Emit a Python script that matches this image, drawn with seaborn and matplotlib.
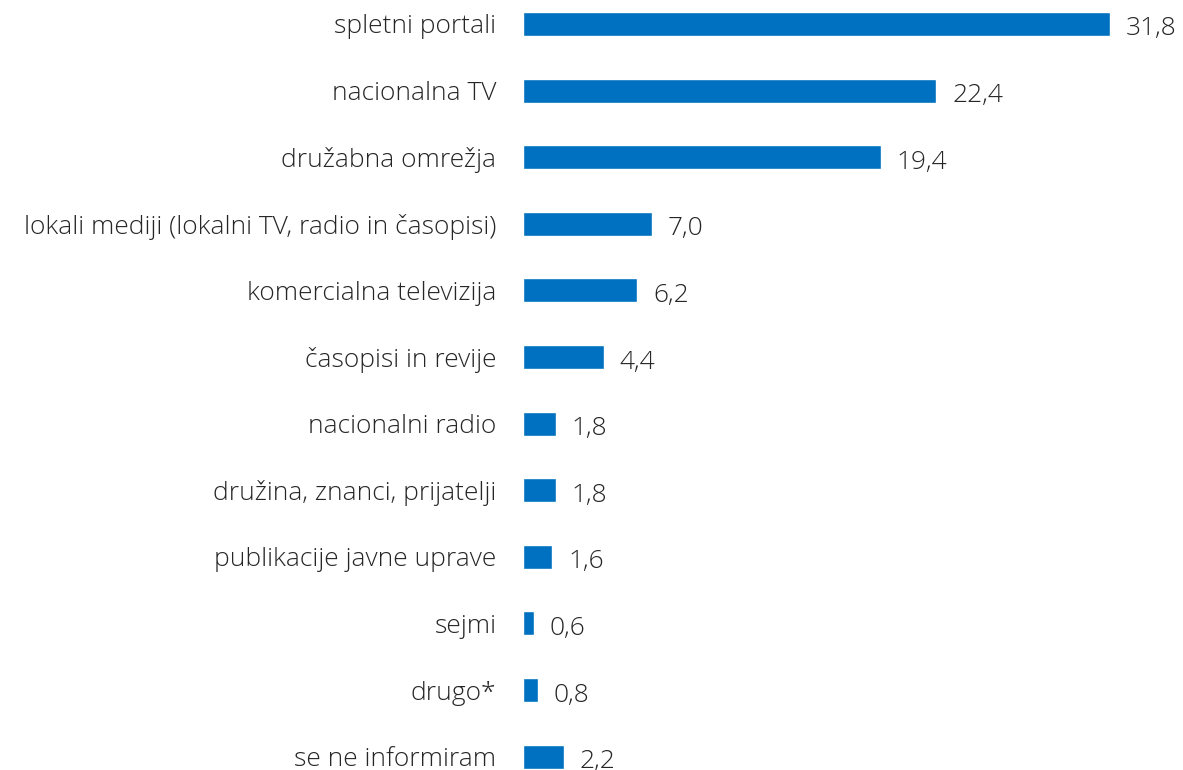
import matplotlib
matplotlib.use('Agg')
import matplotlib.pyplot as plt
import seaborn as sns
import pandas as pd

kategorije = ['spletni portali', 'nacionalna TV', 'družabna omrežja',
              'lokali mediji (lokalni TV, radio in časopisi)', 'komercialna televizija',
              'časopisi in revije', 'nacionalni radio', 'družina, znanci, prijatelji',
              'publikacije javne uprave', 'sejmi', 'drugo*', 'se ne informiram']
vrednosti = [31.8, 22.4, 19.4, 7.0, 6.2, 4.4, 1.8, 1.8, 1.6, 0.6, 0.8, 2.2]
oznake = ['31,8', '22,4', '19,4', '7,0', '6,2', '4,4', '1,8', '1,8', '1,6', '0,6', '0,8', '2,2']

df = pd.DataFrame({'kat': kategorije, 'val': vrednosti})

sns.set_style('white')
plt.rcParams['font.family'] = ['Open Sans', 'DejaVu Sans']
plt.rcParams['font.weight'] = 300

fig = plt.figure(figsize=(11.83, 7.70), dpi=100)
ax = fig.add_axes([0.442, 0.0, 0.558, 1.0])
sns.barplot(data=df, x='val', y='kat', color='#0070C0', width=0.36,
            saturation=1, ax=ax)

for i, (v, t) in enumerate(zip(vrednosti, oznake)):
    ax.text(v + 0.85, i + 0.03, t, va='center_baseline', ha='left', fontsize=19,
            color='#262626', fontweight=300)

ax.set_xlim(0, 35.75)
ax.set_ylim(11.2, -0.36)
ax.set_xlabel('')
ax.set_ylabel('')
ax.set_xticks([])
ax.tick_params(axis='y', length=0, pad=19, labelsize=19, labelcolor='#262626')
for lbl in ax.get_yticklabels():
    lbl.set_fontweight(300)
sns.despine(ax=ax, left=True, bottom=True)

fig.savefig('out.png', dpi=100)
